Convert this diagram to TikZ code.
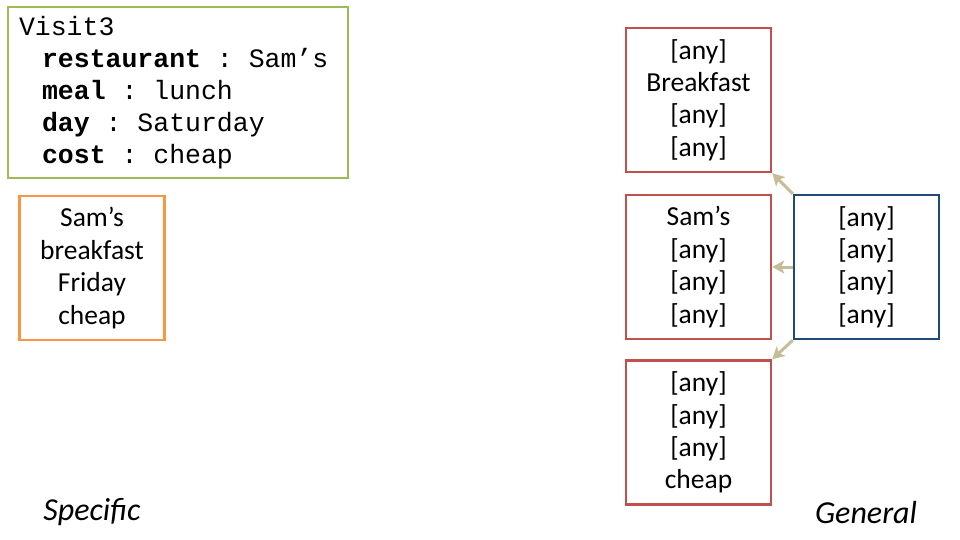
\documentclass[tikz,border=0pt]{standalone}
\usepackage{fontspec}
\setmainfont{Carlito}
\newfontfamily\monof{Liberation Mono}
\usetikzlibrary{arrows.meta}
\definecolor{gbox}{HTML}{9BBB59}
\definecolor{obox}{HTML}{F79646}
\definecolor{rbox}{HTML}{C0504D}
\definecolor{bbox}{HTML}{1F497D}
\definecolor{tan}{HTML}{C4BD97}
\newcommand\anyv{{[any]}}
\newcommand\msp{\hspace*{0.6em}}
\newcommand\ind{\hspace*{0.87em}}
\tikzset{
  card/.style={draw, line width=2.5pt, minimum width=145pt, minimum height=144pt, inner sep=0pt, align=center,
    font=\fontsize{27.5}{32.4}\selectfont},
  link/.style={draw=tan, line width=3pt, -{Stealth[length=12pt,width=13pt,inset=3pt]}},
  label/.style={font=\fontsize{32}{36}\selectfont\itshape, inner sep=0pt}
}
\begin{document}
\begin{tikzpicture}[x=1pt,y=-1pt]
\useasboundingbox (0,0) rectangle (960,540);
\node[draw=gbox, line width=2.5pt, minimum width=340pt, minimum height=171pt, inner xsep=11pt, inner ysep=0pt,
  text width=318pt, align=left, font=\monof\fontsize{26.5}{32}\selectfont] (visit) at (178,92.5)
  {Visit3\\
   \ind\mbox{\textbf{restaurant}\msp:\msp Sam’s}\\
   \ind\mbox{\textbf{meal}\msp:\msp lunch}\\
   \ind\mbox{\textbf{day}\msp:\msp Saturday}\\
   \ind\mbox{\textbf{cost}\msp:\msp cheap}};
\node[card, draw=obox] (spec) at (92,268) {Sam’s\\breakfast\\Friday\\cheap};
\node[card, draw=rbox] (r1) at (698.5,100) {\anyv\\Breakfast\\\anyv\\\anyv};
\node[card, draw=rbox] (r2) at (698.5,267) {Sam’s\\\anyv\\\anyv\\\anyv};
\node[card, draw=rbox] (r3) at (698.5,432.5) {\anyv\\\anyv\\\anyv\\cheap};
\node[card, draw=bbox] (gen) at (866.5,267) {\anyv\\\anyv\\\anyv\\\anyv};
\draw[link] (gen.north west) -- (r1.south east);
\draw[link] (gen.west) -- (r2.east);
\draw[link] (gen.south west) -- (r3.north east);
\node[label] (specific) at (92,512) {Specific};
\node[label] (general) at (866,512) {General};
\end{tikzpicture}
\end{document}
